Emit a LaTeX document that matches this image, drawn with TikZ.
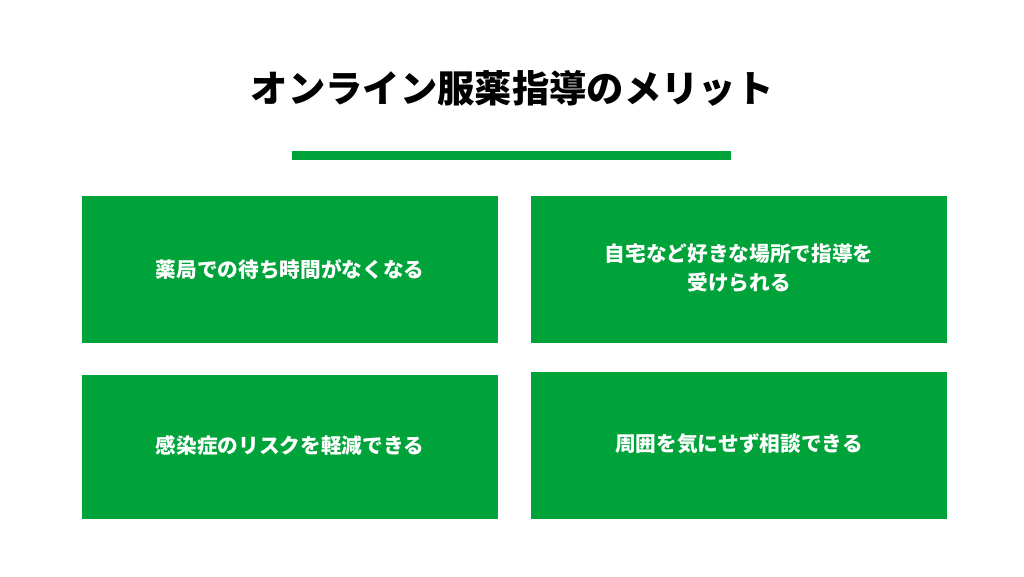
\documentclass[tikz,border=0pt]{standalone}
\usepackage{fontspec}
\newfontfamily\cjk{Noto Sans CJK JP}
\definecolor{gr}{HTML}{00A33A}
\begin{document}
\begin{tikzpicture}[x=0.75pt,y=-0.75pt,
  box/.style={fill=gr,draw=none},
  lbl/.style={text=white,font=\cjk\bfseries\fontsize{15.5}{22}\selectfont,align=center}]
\useasboundingbox (0,0) rectangle (1024,576);
\fill[white] (0,0) rectangle (1024,576);
\node[font=\cjk\bfseries\fontsize{28}{34}\selectfont] (title) at (512,88) {オンライン服薬指導のメリット};
\fill[gr] (292,151) rectangle (731,160);
\fill[box] (82,196) rectangle (498,343);
\fill[box] (531,196) rectangle (947,343);
\fill[box] (82,375) rectangle (498,519);
\fill[box] (531,372) rectangle (947,519);
\node[lbl] (a) at (290,269) {薬局での待ち時間がなくなる};
\node[lbl] (b) at (739,268) {自宅など好きな場所で指導を\\受けられる};
\node[lbl] (c) at (290,446) {感染症のリスクを軽減できる};
\node[lbl] (d) at (739,444) {周囲を気にせず相談できる};
\end{tikzpicture}
\end{document}
